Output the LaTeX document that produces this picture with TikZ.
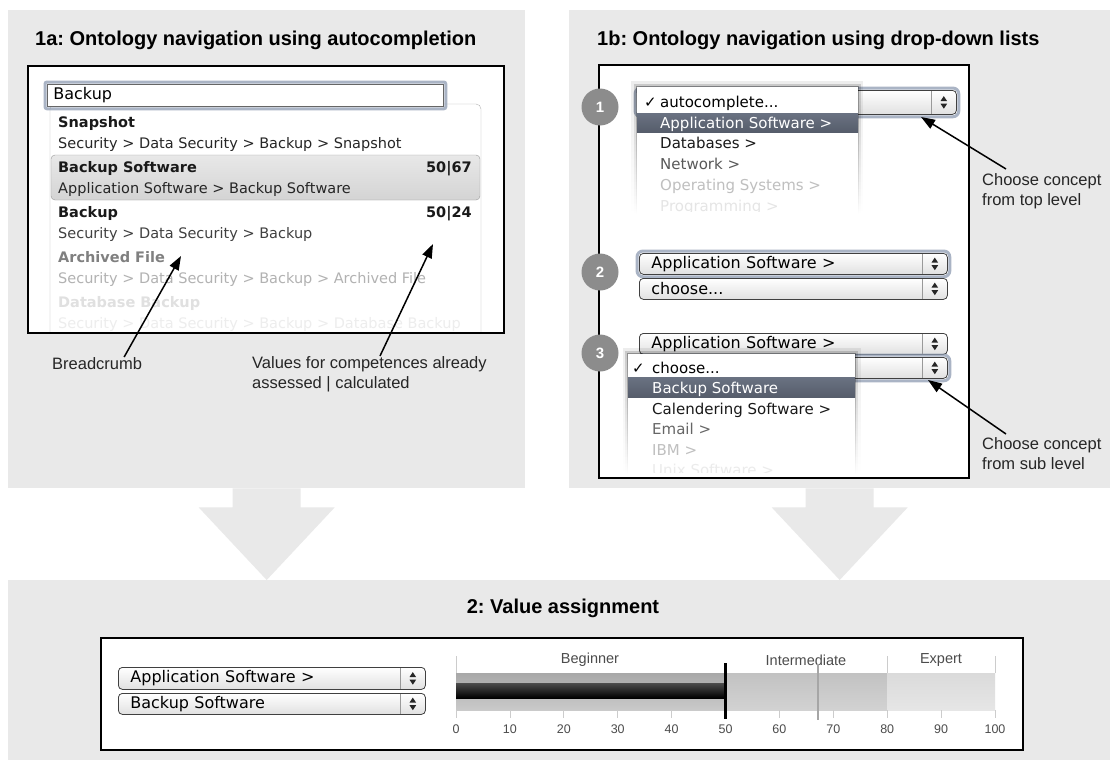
\documentclass[tikz,border=0pt]{standalone}
\usepackage{fontspec}
\setmainfont{Liberation Sans}
\newfontfamily\uifont{DejaVu Sans}
\usetikzlibrary{arrows.meta,calc,fadings}
\frenchspacing

\definecolor{panelgray}{HTML}{E9E9E9}
\definecolor{glowblue}{HTML}{8E9CB2}
\definecolor{hlslate}{HTML}{6A7282}
\definecolor{hlslatedark}{HTML}{565D6B}
\definecolor{stepgray}{HTML}{8C8C8C}
\definecolor{begtop}{HTML}{A8A8A8}
\definecolor{begbot}{HTML}{CACACA}
\definecolor{midtop}{HTML}{C2C2C2}
\definecolor{midbot}{HTML}{D2D2D2}
\definecolor{exptop}{HTML}{DADADA}
\definecolor{expbot}{HTML}{E6E6E6}

\tikzfading[name=menufade, top color=transparent!0, bottom color=transparent!100]

\tikzset{
  panel/.style={fill=panelgray, anchor=north west, inner sep=0pt},
  whitebox/.style={draw=black, line width=1.8pt, fill=white, anchor=north west, inner sep=0pt},
  heading/.style={font=\bfseries\fontsize{20}{24}\selectfont, inner sep=0pt},
  note/.style={font=\fontsize{16.5}{20}\selectfont, text=black!85, align=left, inner sep=0pt, anchor=north west},
  callout/.style={-{Triangle[length=14pt,width=10pt]}, line width=1.5pt},
  listitem/.style={font=\uifont\fontsize{14.5}{17}\selectfont, inner sep=0pt, anchor=mid west, yshift=-3pt},
  listbold/.style={listitem, font=\uifont\bfseries\fontsize{14.5}{17}\selectfont},
  menuitem/.style={font=\uifont\fontsize{15}{17}\selectfont, inner sep=0pt, anchor=mid west, yshift=-3.5pt},
  sel/.style={draw=black!75, line width=0.8pt, rounded corners=4pt, top color=white, bottom color=black!12,
    anchor=north west, inner xsep=12pt, inner ysep=0pt, align=left, minimum height=21pt,
    font=\uifont\fontsize{16}{18}\selectfont},
  inputbox/.style={draw=black!60, line width=0.8pt, fill=white, anchor=north west, inner xsep=6pt,
    inner ysep=0pt, align=left, minimum height=22pt, font=\uifont\fontsize{16}{18}\selectfont},
  glowline/.style={draw=glowblue, line width=3pt, rounded corners=6pt, opacity=0.75},
  stepdot/.style={circle, fill=stepgray, text=white, minimum size=37pt, inner sep=0pt,
    font=\bfseries\fontsize{15}{15}\selectfont},
  hlband/.style={top color=hlslate, bottom color=hlslatedark},
  scaletick/.style={draw=black!20, line width=0.8pt},
  scalelbl/.style={font=\fontsize{12.5}{14}\selectfont, text=black!70, inner sep=0pt},
  rangelbl/.style={font=\fontsize{14.5}{16}\selectfont, text=black!70, inner sep=0pt},
}

\newcommand\selarrows[1]{%
  \draw[black!40, line width=0.6pt] ([xshift=-26pt,yshift=-1pt]#1.north east) -- ([xshift=-26pt,yshift=1pt]#1.south east);
  \fill[black!85] ([xshift=-13pt,yshift=1.3pt]#1.east) -- ++(-3.3pt,0pt) -- ++(3.3pt,5pt) -- ++(3.3pt,-5pt) -- cycle;
  \fill[black!85] ([xshift=-13pt,yshift=-1.3pt]#1.east) -- ++(-3.3pt,0pt) -- ++(3.3pt,-5pt) -- ++(3.3pt,5pt) -- cycle;}
\newcommand\selglow[1]{%
  \draw[glowline] ([shift={(-2pt,2pt)}]#1.north west) rectangle ([shift={(2pt,-2pt)}]#1.south east);}
\newcommand\menushadow[4]{%
  \foreach \d/\o in {1/0.3,3/0.15,5.5/0.07}
    \fill[black, opacity=\o, path fading=menufade] (#1-\d,#2-\d) rectangle (#3+\d,#4);
  \fill[white] (#1,#2) rectangle (#3,#4);}
\newcommand\bigarrow[2]{%
  \fill[panelgray] ([xshift=-34pt]#1.south) -- ++(0pt,-19pt) -- ++(-34pt,0pt) -- (#1.south |- #2.north)
    -- ([shift={(68pt,-19pt)}]#1.south) -- ++(-34pt,0pt) -- ([xshift=34pt]#1.south) -- cycle;}

\begin{document}
\begin{tikzpicture}[x=1pt, y=-1pt]
  \useasboundingbox (0,0) rectangle (1110,760);
  \fill[white] (0,0) rectangle (1110,760);

  \node[panel, minimum width=517pt, minimum height=478pt] (panA) at (8,10) {};
  \node[panel, minimum width=541pt, minimum height=478pt] (panB) at (569,10) {};
  \node[panel, minimum width=1102pt, minimum height=180pt] (panC) at (8,580) {};
  \bigarrow{panA}{panC}
  \bigarrow{panB}{panC}

  \node[heading, anchor=mid west] (headA) at (35,43) {1a: Ontology navigation using autocompletion};
  \node[heading, anchor=mid west] (headB) at (597,43) {1b: Ontology navigation using drop-down lists};
  \node[heading] (headC) at (563,608) {2: Value assignment};

  \node[whitebox, minimum width=476pt, minimum height=267pt] (boxA) at (27,65) {};
  \node[whitebox, minimum width=370pt, minimum height=413pt] (boxB) at (598,64) {};
  \node[whitebox, minimum width=922pt, minimum height=112pt] (boxC) at (100,637) {};

  % 1a: autocompletion list
  \begin{scope}
    \clip (28,66) rectangle (502,331);
    \draw[black!30, fill=white, rounded corners=5pt] (50,345) |- (481,104) -- (481,345);
    \node[listbold, text=black!90] (snap) at (58,122) {Snapshot};
    \node[listitem, text=black!85] (snapPath) at (58,143) {Security > Data Security > Backup > Snapshot};
    \draw[black!40, rounded corners=4pt, top color=black!9, bottom color=black!17] (51,155) rectangle (480,200);
    \node[listbold, text=black!90] (bsw) at (58,167) {Backup Software};
    \node[listbold, text=black!90, anchor=mid east] (bswVal) at (472,167) {50|67};
    \node[listitem, text=black!85] (bswPath) at (58,188) {Application Software > Backup Software};
    \node[listbold, text=black!90] (bck) at (58,212) {Backup};
    \node[listbold, text=black!90, anchor=mid east] (bckVal) at (472,212) {50|24};
    \node[listitem, text=black!75] (bckPath) at (58,233) {Security > Data Security > Backup};
    \node[listbold, text=black!50] (arch) at (58,257) {Archived File};
    \node[listitem, text=black!30] (archPath) at (58,278) {Security > Data Security > Backup > Archived File};
    \node[listbold, text=black!12] (dbb) at (58,302) {Database Backup};
    \node[listitem, text=black!7] (dbbPath) at (58,323) {Security > Data Security > Backup > Database Backup};
  \end{scope}
  \node[inputbox, text width=384pt] (inp) at (47,84) {\raisebox{-2.5pt}{Backup}};
  \draw[glowline, rounded corners=2pt] ([shift={(-2pt,2pt)}]inp.north west) rectangle ([shift={(2pt,-2pt)}]inp.south east);

  \node[note] (lbBread) at (52,357) {Breadcrumb};
  \node[note] (lbVal) at (252,356) {Values for competences already\\assessed | calculated};
  \coordinate (tipBread) at (181,256);
  \coordinate (tipVal) at (433,244);
  \draw[callout] ([xshift=27pt]lbBread.north) -- (tipBread);
  \draw[callout] ([xshift=128pt]lbVal.north west) -- (tipVal);

  % 1b: step 1
  \node[sel, text width=295pt, minimum height=24pt] (s1) at (637,90) {};
  \selglow{s1}
  \selarrows{s1}
  \menushadow{637}{87}{858}{214}
  \begin{scope}
    \clip (630,87) rectangle (860,211);
    \node[menuitem, text=black, font=\uifont\bfseries\fontsize{15}{17}\selectfont] (m1chk) at (644,101) {✓};
    \node[menuitem, text=black] (m1a) at (660,101) {autocomplete...};
    \fill[hlband] (637,113) rectangle (858,132);
    \node[menuitem, text=white] (m1b) at (660,122) {Application Software >};
    \node[menuitem, text=black!90] (m1c) at (660,142) {Databases >};
    \node[menuitem, text=black!65] (m1d) at (660,163) {Network >};
    \node[menuitem, text=black!25] (m1e) at (660,184) {Operating Systems >};
    \node[menuitem, text=black!10] (m1f) at (660,205) {Programming >};
  \end{scope}

  % step 2
  \node[sel, text width=284pt] (s2a) at (639,253) {Application Software >};
  \selglow{s2a}
  \selarrows{s2a}
  \node[sel, text width=284pt] (s2b) at (639,278) {choose...};
  \selarrows{s2b}

  % step 3
  \node[sel, text width=284pt] (s3a) at (639,333) {Application Software >};
  \selarrows{s3a}
  \node[sel, text width=284pt] (s3b) at (639,357) {};
  \selglow{s3b}
  \selarrows{s3b}
  \menushadow{628}{354}{855}{474}
  \begin{scope}
    \clip (620,354) rectangle (860,472);
    \node[menuitem, text=black, font=\uifont\bfseries\fontsize{15}{17}\selectfont] (m3chk) at (632,367) {✓};
    \node[menuitem, text=black] (m3a) at (652,367) {choose...};
    \fill[hlband] (628,377) rectangle (855,397);
    \node[menuitem, text=white] (m3b) at (652,387) {Backup Software};
    \node[menuitem, text=black!90] (m3c) at (652,408) {Calendering Software >};
    \node[menuitem, text=black!60] (m3d) at (652,428) {Email >};
    \node[menuitem, text=black!25] (m3e) at (652,449) {IBM >};
    \node[menuitem, text=black!8] (m3f) at (652,469) {Unix Software >};
  \end{scope}

  \node[stepdot] (st1) at (600,107) {1};
  \node[stepdot] (st2) at (600,272) {2};
  \node[stepdot] (st3) at (600,353) {3};

  \node[note] (lbTop) at (982,173) {Choose concept\\from top level};
  \node[note] (lbSub) at (982,437) {Choose concept\\from sub level};
  \coordinate (tipTop) at (921,117);
  \coordinate (tipSub) at (928,380);
  \draw[callout] ([xshift=24pt,yshift=4pt]lbTop.north west) -- (tipTop);
  \draw[callout] ([xshift=24pt,yshift=3pt]lbSub.north west) -- (tipSub);

  % 2: value assignment
  \node[sel, text width=283pt, minimum height=22pt] (bs1) at (118,667) {Application Software >};
  \selarrows{bs1}
  \node[sel, text width=283pt] (bs2) at (118,693) {Backup Software};
  \selarrows{bs2}

  \fill[top color=begtop, bottom color=begbot] (456,673) rectangle (725.5,710);
  \fill[top color=midtop, bottom color=midbot] (725.5,673) rectangle (887.2,710);
  \fill[top color=exptop, bottom color=expbot] (887.2,673) rectangle (995,710);
  \fill[top color=black!70, bottom color=black] (456,683) rectangle (725.5,698);
  \foreach \v in {0,10,...,100} {
    \draw[scaletick] ({456+5.39*\v},710) -- ({456+5.39*\v},718);
    \node[scalelbl] (num\v) at ({456+5.39*\v},729) {\v};
  }
  \foreach \v in {0,80,100}
    \draw[scaletick] ({456+5.39*\v},656) -- ({456+5.39*\v},673);
  \node[rangelbl] (rBeg) at (590,660) {Beginner};
  \node[rangelbl] (rInt) at (806,660) {Intermediate};
  \node[rangelbl] (rExp) at (941,660) {Expert};
  \draw[black!35, line width=2pt] (818,664) -- (818,720);
  \draw[black, line width=2.2pt] (725.5,663) -- (725.5,719);
\end{tikzpicture}
\end{document}
